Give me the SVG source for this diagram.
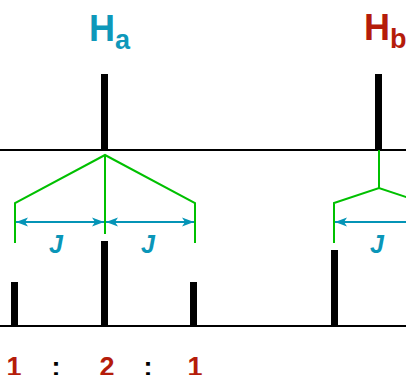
<svg xmlns="http://www.w3.org/2000/svg" width="406" height="375" viewBox="0 0 406 375">
  <style>
    .axis { stroke: #000; stroke-width: 2; }
    .peak { fill: #000; }
    .tree { fill: none; stroke: #00c000; stroke-width: 2; stroke-linejoin: miter; }
    .jarrow { stroke: #0494b6; stroke-width: 2; marker-start: url(#tipL); marker-end: url(#tipR); }
    .jlabel { font-family: "Liberation Sans", Arial, sans-serif; font-weight: bold; font-style: italic; font-size: 25px; fill: #0a96b8; text-anchor: middle; }
    .nuc { font-family: "Liberation Sans", Arial, sans-serif; font-weight: bold; font-size: 36px; }
    .sub { font-size: 27px; }
    .ratio { font-family: "Liberation Sans", Arial, sans-serif; font-weight: bold; font-size: 27px; text-anchor: middle; }
  </style>
  <defs>
    <marker id="tipR" markerUnits="userSpaceOnUse" markerWidth="13" markerHeight="10" refX="12" refY="5" orient="auto" viewBox="0 0 13 10">
      <path d="M0,0.5 L12,5 L0,9.5 L3,5 Z" fill="#0494b6"/>
    </marker>
    <marker id="tipL" markerUnits="userSpaceOnUse" markerWidth="13" markerHeight="10" refX="1" refY="5" orient="auto" viewBox="0 0 13 10">
      <path d="M13,0.5 L1,5 L13,9.5 L10,5 Z" fill="#0494b6"/>
    </marker>
  </defs>

  <!-- uncoupled spectrum -->
  <g id="spectrum-top">
    <line class="axis" x1="0" y1="150" x2="406" y2="150"/>
    <rect class="peak" x="101" y="74" width="7" height="76"/>
    <rect class="peak" x="375" y="74" width="7" height="76"/>
    <text class="nuc" x="89" y="41" fill="#0e98ba">H<tspan class="sub" dy="8">a</tspan></text>
    <text class="nuc" x="364" y="40" fill="#b51c0a">H<tspan class="sub" dy="8">b</tspan></text>
  </g>

  <!-- splitting trees -->
  <g id="tree-a">
    <polyline class="tree" points="15,243 15,203 105,155 195,203 195,243"/>
    <line class="tree" x1="105" y1="155" x2="105" y2="234"/>
  </g>
  <g id="tree-b">
    <line class="tree" x1="379" y1="150" x2="379" y2="188"/>
    <polyline class="tree" points="334,243 334,203 379,188 424,203 424,243"/>
  </g>

  <!-- coupling constants -->
  <g id="couplings">
    <line class="jarrow" x1="16" y1="222" x2="104" y2="222"/>
    <line class="jarrow" x1="106" y1="222" x2="194" y2="222"/>
    <line class="jarrow" x1="335" y1="222" x2="423" y2="222"/>
    <text class="jlabel" x="56" y="253">J</text>
    <text class="jlabel" x="148" y="253">J</text>
    <text class="jlabel" x="377" y="253">J</text>
  </g>

  <!-- coupled spectrum -->
  <g id="spectrum-bottom">
    <line class="axis" x1="0" y1="326" x2="406" y2="326"/>
    <rect class="peak" x="11" y="282" width="7" height="44"/>
    <rect class="peak" x="101" y="241" width="7" height="85"/>
    <rect class="peak" x="190" y="282" width="7" height="44"/>
    <rect class="peak" x="331" y="250" width="7" height="76"/>
  </g>

  <!-- intensity ratio -->
  <g id="ratio">
    <text class="ratio" x="14" y="376" fill="#b51c0a">1</text>
    <text class="ratio" x="56" y="376" fill="#000">:</text>
    <text class="ratio" x="107" y="376" fill="#b51c0a">2</text>
    <text class="ratio" x="148" y="376" fill="#000">:</text>
    <text class="ratio" x="195" y="376" fill="#b51c0a">1</text>
  </g>
</svg>
